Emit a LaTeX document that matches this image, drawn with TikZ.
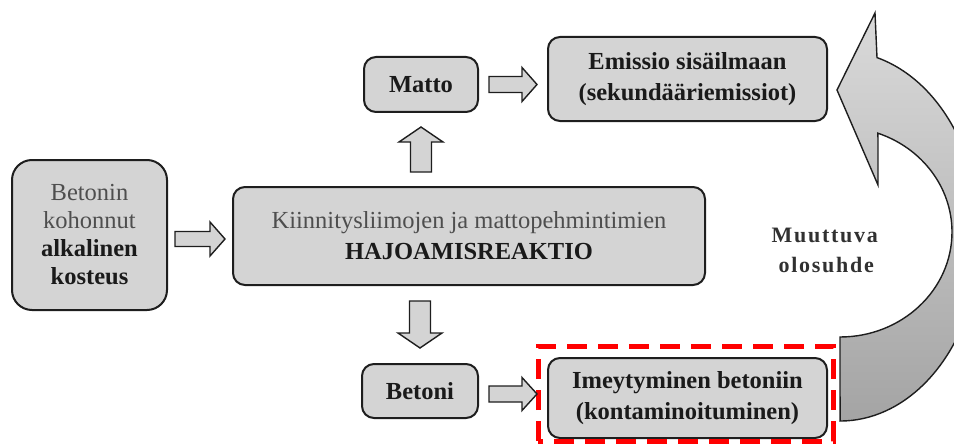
\documentclass[tikz,border=0pt]{standalone}
\usepackage{fontspec}
\setmainfont{Liberation Serif}
\newfontfamily\spacedserif[LetterSpace=8]{Liberation Serif}
\usetikzlibrary{calc}

\definecolor{boxfill}{HTML}{D4D4D4}
\definecolor{boxline}{HTML}{1E1E1E}
\definecolor{softtext}{HTML}{4E4E4E}
\definecolor{darktext}{HTML}{1A1A1A}
\definecolor{loopfilltop}{HTML}{DADADA}
\definecolor{loopfillbottom}{HTML}{A4A4A4}

\begin{document}
\begin{tikzpicture}[x=1pt,y=-1pt,
  box/.style={draw=boxline, line width=2pt, fill=boxfill, rounded corners=12pt,
    align=center, inner sep=0pt, text=darktext,
    font=\fontsize{24.5}{31}\selectfont\bfseries},
  % block arrow between two points: gap, shaft half width, head half width
  barrow/.style n args={3}{draw=boxline, line width=1.4pt, fill=boxfill,
    line join=miter,
    to path={
      let \p1=(\tikztostart), \p2=(\tikztotarget),
          \n1={atan2(\y2-\y1,\x2-\x1)} in
      ($(\p1)+(\n1:#1)+(\n1+90:#2)$)
      -- ($(\p2)+(\n1+180:#1+15pt)+(\n1+90:#2)$)
      -- ($(\p2)+(\n1+180:#1+15pt)+(\n1+90:#3)$)
      -- ($(\p2)+(\n1+180:#1)$)
      -- ($(\p2)+(\n1+180:#1+15pt)+(\n1-90:#3)$)
      -- ($(\p2)+(\n1+180:#1+15pt)+(\n1-90:#2)$)
      -- ($(\p1)+(\n1:#1)+(\n1-90:#2)$)
      -- cycle}},
  redframe/.style={draw=red, line width=5pt, dash pattern=on 20pt off 11pt}
]
\useasboundingbox (0,0) rectangle (954,444);
\clip (0,0) rectangle (954,444);

% boxes
\node[box, rounded corners=20pt, minimum width=155pt, minimum height=150pt,
      font=\fontsize{24.5}{28}\selectfont\bfseries] (left) at (89.5,235)
  {{\color{softtext}\mdseries Betonin}\\{\color{softtext}\mdseries kohonnut}\\alkalinen\\kosteus};
\node[box, minimum width=472pt, minimum height=98pt] (mid) at (469,236)
  {{\color{softtext}\mdseries Kiinnitysliimojen ja mattopehmintimien}\\HAJOAMISREAKTIO};
\node[box, minimum width=114pt, minimum height=55pt] (matto) at (421,84.5) {Matto};
\node[box, minimum width=279pt, minimum height=84pt] (emissio) at (687.5,79)
  {Emissio sisäilmaan\\(sekundääriemissiot)};
\node[box, minimum width=116pt, minimum height=54pt] (betoni) at (420,391) {Betoni};
\node[box, minimum width=279pt, minimum height=80pt] (imey) at (687.5,398)
  {Imeytyminen betoniin\\(kontaminoituminen)};

% highlighted frame
\draw[redframe] ($(imey.south west)+(-9,2)$) rectangle ($(imey.north east)+(5,-11)$);

% block arrows
\draw[barrow={7pt}{7.5pt}{17pt}] ($(left.east)+(0,4)$) to ($(left.east -| mid.west)+(0,4)$);
\draw[barrow={14pt}{10.5pt}{22pt}] (mid.north -| matto.south) to (matto.south);
\draw[barrow={15pt}{10.5pt}{22pt}] (mid.south -| betoni.north) to (betoni.north);
\draw[barrow={10pt}{8pt}{17pt}] (matto.east) to (matto.east -| emissio.west);
\draw[barrow={10pt}{8pt}{16.5pt}] ($(betoni.east)+(0,3)$) to ($(betoni.east -| imey.west)+(0,3)$);

% returning loop arrow
\shadedraw[top color=loopfilltop, bottom color=loopfillbottom, draw=boxline,
  line width=1.4pt, line join=miter]
  (875,13) -- (877,57.6)
  arc[start angle=-74.7, end angle=90, x radius=140, y radius=185]
  -- (840,337)
  arc[start angle=90, end angle=-70.2, x radius=112, y radius=105]
  -- (878,185) -- (837,90) -- cycle;

\node[anchor=west, align=left, text=darktext!90,
      font=\spacedserif\bfseries\fontsize{22}{30}\selectfont] (cond) at (768,250)
  {Muuttuva\\\hspace*{7pt}olosuhde};
\end{tikzpicture}
\end{document}
